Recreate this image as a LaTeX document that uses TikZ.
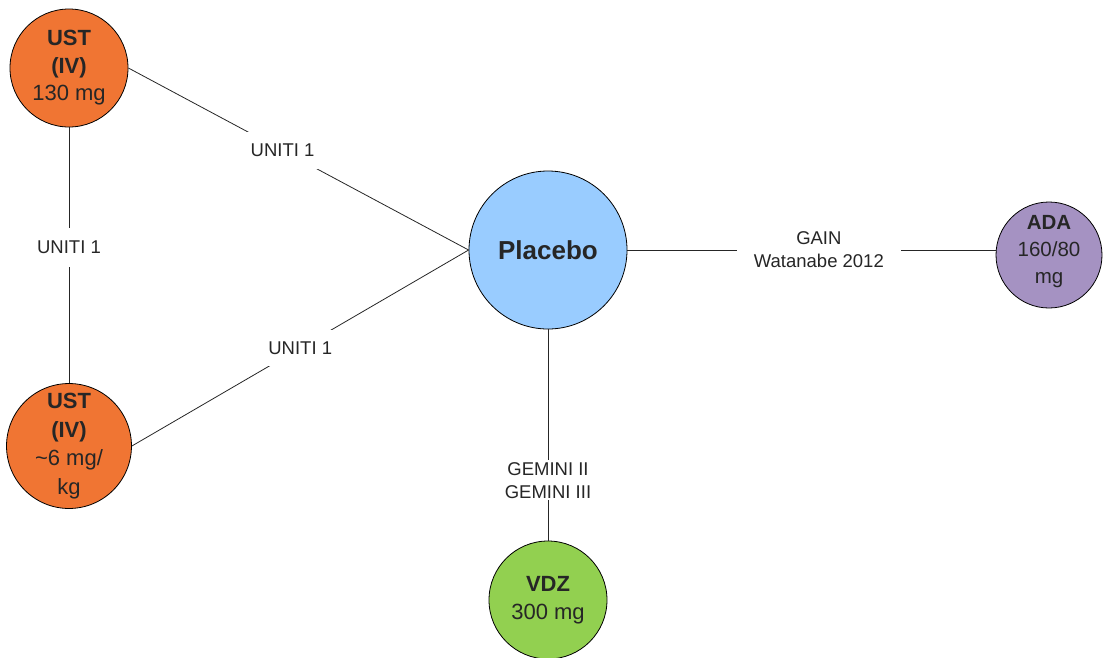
\documentclass[tikz,border=0pt]{standalone}
\usepackage{fontspec}
\setmainfont{Liberation Sans}
\definecolor{ustorange}{HTML}{F07533}
\definecolor{placeboblue}{HTML}{99CCFF}
\definecolor{adapurple}{HTML}{A592C2}
\definecolor{vdzgreen}{HTML}{92D050}
\definecolor{inkgray}{HTML}{262626}
\begin{document}
\begin{tikzpicture}[x=1pt,y=-1pt,
  drug/.style={circle, draw=black, line width=0.8pt, inner sep=0pt, align=center, text=inkgray},
  link/.style={draw=black!85, line width=0.8pt},
  lbl/.style={fill=white, align=center, text=inkgray, font=\fontsize{18.5}{23}\selectfont}]
\useasboundingbox (0,0) rectangle (1103,657);

% treatment nodes
\node[drug, minimum size=118pt, fill=ustorange, font=\fontsize{22}{27.5}\selectfont]
  (ust130) at (69,68) {\textbf{UST}\\\textbf{(IV)}\\130 mg};
\node[drug, minimum size=118pt, fill=ustorange, font=\fontsize{22}{28.5}\selectfont]
  (ust6) at (69,446) {\textbf{UST}\\\textbf{(IV)}\\\textasciitilde6 mg/\\kg};
\node[drug, minimum size=158pt, fill=placeboblue, font=\fontsize{26}{30}\selectfont]
  (placebo) at (548,250) {\textbf{Placebo}};
\node[drug, minimum size=106pt, fill=adapurple, font=\fontsize{20.5}{27}\selectfont]
  (ada) at (1049,255) {\textbf{ADA}\\160/80\\mg\rule[-12pt]{0pt}{0pt}};
\node[drug, minimum size=118pt, fill=vdzgreen, font=\fontsize{22}{28}\selectfont]
  (vdz) at (548,600) {\textbf{VDZ}\\300 mg};

% trial connections
\path[link] (ust130.east) -- (placebo.west)
  node[lbl, pos=0.453, inner xsep=4pt, inner ysep=12pt] {UNITI 1};
\path[link] (ust130.south) -- (ust6.north)
  node[lbl, pos=0.47, inner xsep=4pt, inner ysep=13pt] {UNITI 1};
\path[link] (ust6.east) -- (placebo.west)
  node[lbl, pos=0.5, inner xsep=4pt, inner ysep=12pt] {UNITI 1};
\path[link] (placebo.east) -- (placebo.east -| ada.west)
  node[lbl, pos=0.52, inner xsep=17pt, inner ysep=4pt] {GAIN\\Watanabe 2012};
\path[link] (placebo.south) -- (vdz.north)
  node[lbl, pos=0.715, inner xsep=4pt, inner ysep=2pt] {GEMINI II\\GEMINI III};
\end{tikzpicture}
\end{document}
